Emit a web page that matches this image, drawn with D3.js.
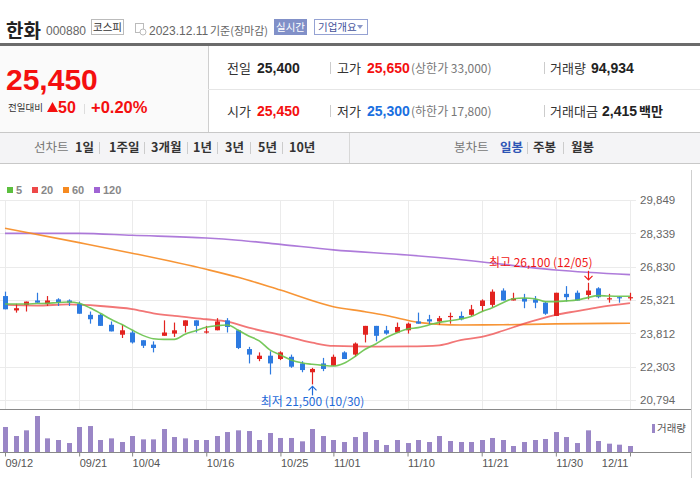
<!DOCTYPE html>
<html><head><meta charset="utf-8">
<script src="https://cdn.jsdelivr.net/npm/d3@7"></script>
<style>
html,body{margin:0;padding:0;background:#fff;}
svg{display:block;font-family:"Liberation Sans","Noto Sans CJK KR",Arial,sans-serif;}
</style></head>
<body><svg id="c" width="700" height="490"></svg>
<script>
// ---------- DATA ----------
const dates = ["09/12","09/13","09/14","09/15","09/18","09/19","09/20","09/21","09/22","09/25","09/26","09/27",
"10/04","10/05","10/06","10/10","10/11","10/12","10/13","10/16","10/17","10/18","10/19","10/20","10/23","10/24","10/25","10/26","10/27","10/30","10/31",
"11/01","11/02","11/03","11/06","11/07","11/08","11/09","11/10","11/13","11/14","11/15","11/16","11/17","11/20","11/21","11/22","11/23","11/24","11/27","11/28","11/29","11/30",
"12/01","12/04","12/05","12/06","12/07","12/08","12/11"];
const open  = [25500,24850,25100,25300,25150,25350,25300,25150,24650,24650,24200,23750,
23850,23500,23300,23700,23800,24150,24400,23900,23950,24400,23950,23100,22650,22800,22650,22750,22450,22050,22450,
22350,22950,22850,23750,24150,23950,23850,23950,24350,24450,24350,24600,24600,24650,25050,25100,25750,25300,25400,25350,25200,24600,
25600,25650,25550,25850,25400,25450,25450];
const high  = [25700,25150,25250,25650,25500,25400,25350,25250,24800,24700,24350,24200,
23950,23500,23450,24400,24300,24400,24400,24150,24500,24500,23950,23200,22950,23000,23000,22850,22550,22250,22700,
22850,23000,23400,24150,24150,24150,24300,24300,24750,24650,24600,24750,24800,25100,25350,25800,25850,25650,25600,25500,25250,25650,
25950,25750,26100,25900,25600,25500,25650];
const low   = [24900,24750,24800,25200,25050,25050,25050,24700,24250,24150,23900,23600,
23350,23150,22950,23700,23650,23850,23850,23800,23950,23850,23100,22450,22550,21950,22600,22250,22050,21500,22100,
22350,22650,22750,23400,23450,23750,23850,23800,24250,24200,24200,24250,24400,24600,24800,25000,25300,25300,24950,24950,24650,24600,
25250,25300,25350,25400,25200,25200,25300];
const close = [24900,24950,25250,25200,25300,25200,25200,24700,24450,24150,23900,23950,
23400,23250,23150,23850,23950,24400,24150,23900,24350,24100,23150,22850,22800,22450,22950,22300,22150,22200,22200,
22750,22650,23350,24150,23700,23800,24100,24250,24250,24350,24500,24600,24450,24900,25300,25700,25300,25400,25250,25200,24700,25650,
25450,25300,25750,25450,25400,25400,25450];
const volume = [396000,253000,343000,570000,216000,190000,142000,396000,411000,190000,216000,158000,
253000,200000,200000,364000,237000,216000,190000,190000,253000,316000,343000,332000,190000,301000,222000,222000,169000,364000,253000,
190000,158000,237000,316000,190000,111000,190000,142000,190000,158000,253000,174000,158000,158000,190000,222000,190000,95000,158000,190000,206000,316000,
237000,142000,343000,174000,132000,116000,94934];
// moving averages
const ma5 = [25140,25140,25140,25160,25170,25210,25230,25170,24970,24720,24450,24220,
23960,23720,23570,23540,23540,23770,23930,24090,24160,24190,23960,23690,23470,23060,22830,22610,22480,22410,22360,
22330,22460,22750,23090,23330,23620,23840,24010,24070,24190,24310,24380,24460,24570,24790,24970,25200,25380,25410,25380,25250,25250,
25280,25320,25430,25520,25500,25490,25490];
const ma20Idx = [0,3,6,9,12,14,16,19,21,23,26,29,31,35,38,41,43,45,47,49,52,54,56,59];
const ma20Val = [25100,25070,25120,25050,24910,24720,24600,24450,24340,24070,23740,23390,23240,23210,23220,23270,23510,23650,23930,24250,24650,24820,24990,25180];
const ma60Idx = [0,7,12,19,22,26,31,34,36,39,41,43,47,52,59];
const ma60Val = [28570,27920,27440,26710,26350,25770,25020,24790,24620,24310,24220,24190,24200,24240,24270];
const ma120Idx = [0,7,12,19,22,26,31,38,44,52,59];
const ma120Val = [28340,28340,28250,28130,28030,27840,27590,27360,27100,26680,26470];
const priceTicks = [20794,22303,23812,25321,26830,28339,29849];
const dateTicks = ["09/12","09/21","10/04","10/16","10/25","11/01","11/10","11/21","11/30","12/11"];
const legendItems = ["5","20","60","120"];
const legendColors = ["#5cbf3e","#ee4848","#f68a20","#a064d4"];

// ---------- DRAW ----------
const svg = d3.select("#c");
const KR = '"Noto Sans CJK KR","Liberation Sans",sans-serif';
const NUM = '"Liberation Sans","Noto Sans CJK KR",Arial,sans-serif';
function t(x,y,s,o){o=o||{};const e=svg.append("text").attr("x",x).attr("y",y).text(s)
 .attr("font-size",o.size||12).attr("fill",o.fill||"#333").attr("font-weight",o.w||"normal")
 .attr("font-family",o.ff||NUM).attr("text-anchor",o.a||"start");return e;}
function ln(x1,y1,x2,y2,c,w){return svg.append("line").attr("x1",x1).attr("y1",y1).attr("x2",x2).attr("y2",y2).attr("stroke",c).attr("stroke-width",w||1);}

// header
t(6,38,"한화",{size:19,w:"bold",fill:"#222",ff:KR});
t(46,35,"000880",{size:12,fill:"#666"});
svg.append("rect").attr("x",91.5).attr("y",19.5).attr("width",32).attr("height",15).attr("fill","#fff").attr("stroke","#bbb");
t(107.5,31,"코스피",{size:10.5,fill:"#333",a:"middle",ff:KR});
svg.append("rect").attr("x",135.5).attr("y",23.5).attr("width",8).attr("height",9).attr("fill","none").attr("stroke","#bbb");
svg.append("circle").attr("cx",143).attr("cy",32).attr("r",3).attr("fill","#fff").attr("stroke","#bbb");
t(149,35,"2023.12.11",{size:12,fill:"#666"});
t(210,34.5,"기준(장마감)",{size:11,fill:"#666",ff:KR});
svg.append("rect").attr("x",274).attr("y",19).attr("width",33).attr("height",16).attr("fill","#8190c8");
t(290.5,31,"실시간",{size:10.5,fill:"#fff",a:"middle",ff:KR});
svg.append("rect").attr("x",314.5).attr("y",19.5).attr("width",53).attr("height",15).attr("fill","#fff").attr("stroke","#95a2d3");
t(318,31,"기업개요",{size:10.5,fill:"#44529a",ff:KR});
svg.append("path").attr("d","M357,25 L363,25 L360,29 Z").attr("fill","#8a97c8");
svg.append("rect").attr("x",0).attr("y",43).attr("width",700).attr("height",3).attr("fill","#6b6b6b");

// summary block
svg.append("rect").attr("x",0).attr("y",46).attr("width",208).attr("height",87).attr("fill","#fafafa");
ln(208.5,46,208.5,133,"#cfcfcf");
ln(208,89.5,700,89.5,"#e6e6e6");
ln(0,132.5,700,132.5,"#c8c8c8");
t(6,90,"25,450",{size:30,w:"bold",fill:"#f40f0f"});
t(8,111,"전일대비",{size:9.5,fill:"#333",ff:KR});
svg.append("path").attr("d","M47,112 L52.5,102 L58,112 Z").attr("fill","#f40f0f");
t(58,113,"50",{size:16,w:"bold",fill:"#f40f0f"});
ln(84.5,104,84.5,114,"#ddd");
t(91,113,"+0.20%",{size:16.5,w:"bold",fill:"#f40f0f"});

const rows=[73,116];
[["전일","25,400","#222"],["시가","25,450","#f40f0f"]].forEach((r,i)=>{
 t(227,rows[i],r[0],{size:13,fill:"#333",ff:KR});
 t(257,rows[i],r[1],{size:14,w:"bold",fill:r[2]});
});
[["고가","25,650","#f40f0f","(상한가 33,000)"],["저가","25,300","#1a6fe0","(하한가 17,800)"]].forEach((r,i)=>{
 ln(330.5,rows[i]-11,330.5,rows[i]+1,"#ccc");
 t(337,rows[i],r[0],{size:13,fill:"#333",ff:KR});
 t(367,rows[i],r[1],{size:14,w:"bold",fill:r[2]});
 t(411,rows[i],r[3],{size:12,fill:"#777",ff:KR});
 ln(544.5,rows[i]-11,544.5,rows[i]+1,"#ccc");
});
t(550,rows[0],"거래량",{size:13,fill:"#333",ff:KR});
t(591,rows[0],"94,934",{size:14,w:"bold",fill:"#222"});
t(550,rows[1],"거래대금",{size:13,fill:"#333",ff:KR});
t(602,rows[1],"2,415",{size:14,w:"bold",fill:"#222"});
t(639,rows[1],"백만",{size:13,w:"bold",fill:"#222",ff:KR});

// toolbar
svg.append("rect").attr("x",0).attr("y",133).attr("width",700).attr("height",31).attr("fill","#f4f4f6");
ln(0,163.5,700,163.5,"#c8c8c8");
ln(349.5,133,349.5,163,"#d8d8d8");
t(34,152,"선차트",{size:12.5,fill:"#777",ff:KR});
const lineItems=[["1일",75],["1주일",109],["3개월",151],["1년",193],["3년",225],["5년",258],["10년",289]];
lineItems.forEach(d=>t(d[1],152,d[0],{size:12.5,w:"bold",fill:"#333",ff:KR}));
[99,144,187,217,250,282].forEach(x=>ln(x+0.5,142,x+0.5,154,"#ccc"));
t(454,152,"봉차트",{size:12.5,fill:"#777",ff:KR});
t(500,152,"일봉",{size:12.5,w:"bold",fill:"#2d55b5",ff:KR});
t(533,152,"주봉",{size:12.5,w:"bold",fill:"#333",ff:KR});
t(571,152,"월봉",{size:12.5,w:"bold",fill:"#333",ff:KR});
[527,563].forEach(x=>ln(x+0.5,142,x+0.5,154,"#ccc"));

// chart scales
const x = d3.scalePoint().domain(dates).range([5,630]);
const y = d3.scaleLinear().domain([20794,29849]).range([400,200]);
const yv = d3.scaleLinear().domain([0,570000]).range([452,416]);

// legend
legendItems.forEach((s,i)=>{
 const lx=[7,32,63,94][i];
 svg.append("rect").attr("x",lx).attr("y",187).attr("width",6).attr("height",6).attr("fill",legendColors[i]);
 t(lx+9,194,s,{size:11,w:"bold",fill:"#888"});
});

// grid
const g = svg.append("g");
priceTicks.forEach(v=>g.append("line").attr("x1",0).attr("x2",636).attr("y1",Math.round(y(v))+0.5).attr("y2",Math.round(y(v))+0.5).attr("stroke","#ebebeb"));
dateTicks.forEach(d=>g.append("line").attr("x1",Math.round(x(d))+0.5).attr("x2",Math.round(x(d))+0.5).attr("y1",200).attr("y2",409).attr("stroke","#ebebeb"));
ln(0,409.5,691,409.5,"#8a8a8a");
ln(691.5,170,691.5,478,"#cfcfcf");

// price axis
const ya = svg.append("g").attr("transform","translate(636,0)")
 .call(d3.axisRight(y).tickValues(priceTicks).tickFormat(d3.format(",")).tickSize(0).tickPadding(4));
ya.select(".domain").remove();
ya.selectAll("text").attr("font-size",11.5).attr("fill","#666").attr("font-family",NUM);

// MA lines
const lineGen = d3.line().x(d=>x(dates[d[0]])).y(d=>y(d[1])).curve(d3.curveMonotoneX);
const maSets = [
 [ma120Idx.map((k,i)=>[k,ma120Val[i]]),"#a064d4",1.6,0.85],
 [ma60Idx.map((k,i)=>[k,ma60Val[i]]),"#f68a20",1.6,0.9],
 [ma20Idx.map((k,i)=>[k,ma20Val[i]]),"#ee4848",1.8,0.75],
];
maSets.forEach(m=>svg.append("path").attr("d",lineGen(m[0])).attr("fill","none").attr("stroke",m[1]).attr("stroke-width",m[2]).attr("opacity",m[3]));

// candles
const cg = svg.append("g");
dates.forEach((d,i)=>{
 const up = close[i]>=open[i];
 const col = up?"#e2231f":"#2d7ae0";
 const cx = Math.round(x(d));
 cg.append("line").attr("x1",cx+0.5).attr("x2",cx+0.5).attr("y1",y(high[i])).attr("y2",y(low[i])).attr("stroke",col).attr("stroke-width",1.2);
 const top=y(Math.max(open[i],close[i])), bot=y(Math.min(open[i],close[i]));
 cg.append("rect").attr("x",cx-2).attr("width",5).attr("y",top).attr("height",Math.max(1.2,bot-top)).attr("fill",col);
});
svg.append("path").attr("d",lineGen(ma5.map((v,i)=>[i,v]))).attr("fill","none").attr("stroke","#68c24a").attr("stroke-width",1.6).attr("opacity",0.9);

// annotations
const hiI = dates.indexOf("12/05"), loI = dates.indexOf("10/30");
const hx = Math.round(x(dates[hiI]))+0.5, hy = y(high[hiI]);
t(hx+4,hy-16,"최고 26,100 (12/05)",{size:12,fill:"#f01818",a:"end",ff:KR});
ln(hx,hy-12,hx,hy-3,"#f01818",1.2);
svg.append("path").attr("d",`M${hx-4},${hy-7} L${hx},${hy-3} L${hx+4},${hy-7}`).attr("fill","none").attr("stroke","#f01818").attr("stroke-width",1.2);
const lx0 = Math.round(x(dates[loI]))+0.5, ly0 = y(low[loI]);
ln(lx0,ly0+2,lx0,ly0+11,"#1f6ad8",1.2);
svg.append("path").attr("d",`M${lx0-4},${ly0+6} L${lx0},${ly0+2} L${lx0+4},${ly0+6}`).attr("fill","none").attr("stroke","#1f6ad8").attr("stroke-width",1.2);
t(lx0,ly0+22,"최저 21,500 (10/30)",{size:12,fill:"#1f6ad8",a:"middle",ff:KR});

// volume
const vg = svg.append("g");
dates.forEach((d,i)=>{
 vg.append("rect").attr("x",Math.round(x(d))-2).attr("width",5).attr("y",yv(volume[i])).attr("height",452-yv(volume[i])).attr("fill","#9a86c6");
});
ln(0,452.5,691,452.5,"#888");
svg.append("rect").attr("x",652).attr("y",424).attr("width",3).attr("height",9).attr("fill","#9a86c6");
t(657,432,"거래량",{size:10.5,fill:"#555",ff:KR});

const xa = svg.append("g").attr("transform","translate(0,452.5)")
 .call(d3.axisBottom(x).tickValues(dateTicks).tickSize(4).tickPadding(3));
xa.select(".domain").remove();
xa.selectAll("line").attr("stroke","#888");
xa.selectAll("text").attr("font-size",11).attr("fill","#555").attr("font-family",NUM)
 .attr("text-anchor",(d,i)=>i===dateTicks.length-1?"end":"start").attr("x",(d,i)=>i===dateTicks.length-1?-2:0);
</script></body></html>
